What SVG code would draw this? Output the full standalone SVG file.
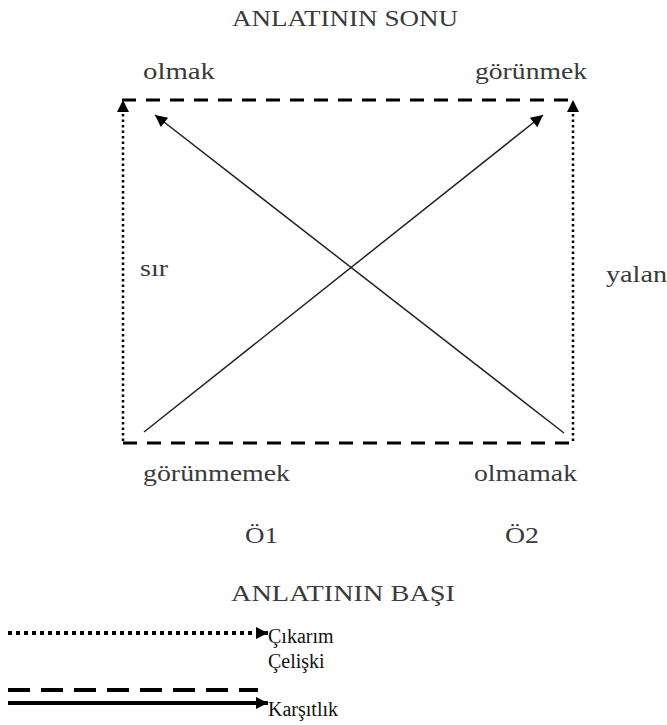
<svg xmlns="http://www.w3.org/2000/svg" width="667" height="725" viewBox="0 0 667 725">
<style>
.lbl{font-family:"Liberation Serif","Times New Roman",serif;font-size:24px;fill:#3a3a3a}
.leg{font-family:"Liberation Serif","Times New Roman",serif;font-size:20px;fill:#111}
.dash{stroke:#000;stroke-width:3;stroke-dasharray:14 10;fill:none}
.dot{stroke:#000;stroke-width:2.5;stroke-dasharray:2.5 3;fill:none}
.sol{stroke:#222;stroke-width:1.5;fill:none}
</style>
<defs>
<marker id="ah" viewBox="0 0 10 10" refX="10" refY="5" markerWidth="14" markerHeight="12" markerUnits="userSpaceOnUse" orient="auto"><path d="M0,0L10,5L0,10z" fill="#000"/></marker>
</defs>
<rect width="667" height="725" fill="#fff"/>
<g id="connectors">
<path class="dash" d="M122,100H578"/>
<path class="dash" d="M123,443H577"/>
<path class="dot" d="M123,441V100" marker-end="url(#ah)"/>
<path class="dot" d="M573,441V100" marker-end="url(#ah)"/>
<path class="sol" d="M144,432L543,115" marker-end="url(#ah)"/>
<path class="sol" d="M564,433L155,115" marker-end="url(#ah)"/>
</g>
<g id="title-top"><text class="lbl" x="345" y="26" text-anchor="middle" textLength="226" lengthAdjust="spacingAndGlyphs">ANLATININ SONU</text></g>
<g id="node-olmak"><text class="lbl" x="143" y="79" textLength="72" lengthAdjust="spacingAndGlyphs">olmak</text></g>
<g id="node-gorunmek"><text class="lbl" x="475" y="79" textLength="112" lengthAdjust="spacingAndGlyphs">görünmek</text></g>
<g id="label-sir"><text class="lbl" x="140" y="276" textLength="28" lengthAdjust="spacingAndGlyphs">sır</text></g>
<g id="label-yalan"><text class="lbl" x="606" y="282" textLength="61" lengthAdjust="spacingAndGlyphs">yalan</text></g>
<g id="node-gorunmemek"><text class="lbl" x="143" y="481" textLength="147" lengthAdjust="spacingAndGlyphs">görünmemek</text></g>
<g id="node-olmamak"><text class="lbl" x="474" y="481" textLength="103" lengthAdjust="spacingAndGlyphs">olmamak</text></g>
<g id="label-o1"><text class="lbl" x="245" y="543" textLength="33" lengthAdjust="spacingAndGlyphs">Ö1</text></g>
<g id="label-o2"><text class="lbl" x="505" y="543" textLength="34" lengthAdjust="spacingAndGlyphs">Ö2</text></g>
<g id="title-bottom"><text class="lbl" x="343" y="601" text-anchor="middle" textLength="224" lengthAdjust="spacingAndGlyphs">ANLATININ BAŞI</text></g>
<g id="legend">
<path d="M8,633H268" stroke="#000" stroke-width="4" stroke-dasharray="4 4" fill="none" marker-end="url(#ah)"/>
<text class="leg" x="268" y="643">Çıkarım</text>
<text class="leg" x="268" y="668">Çelişki</text>
<path d="M8,690H258" stroke="#000" stroke-width="4" stroke-dasharray="22 11" fill="none"/>
<path d="M8,703H268" stroke="#000" stroke-width="4" fill="none" marker-end="url(#ah)"/>
<text class="leg" x="268" y="716">Karşıtlık</text>
</g>
</svg>
